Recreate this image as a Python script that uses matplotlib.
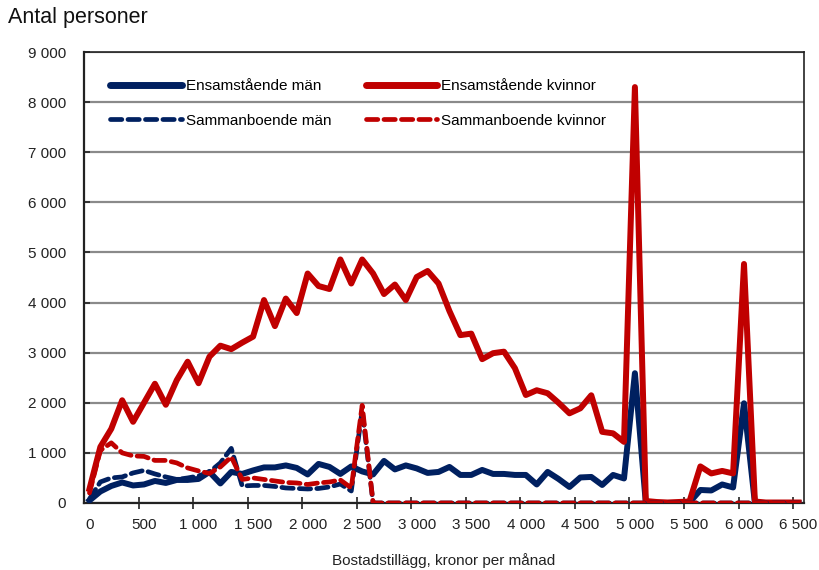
import numpy as np
import matplotlib
matplotlib.use("Agg")
import matplotlib.pyplot as plt
from matplotlib.lines import Line2D

# bostadstillägg, kronor per månad (kategorier om 100 kr)
kronor = list(range(0, 6501, 100))

ens_man = [50, 230, 340, 410, 350, 370, 440, 400, 460, 460,
           480, 620, 390, 620, 580, 650, 710, 710, 750, 700,
           570, 780, 720, 580, 730, 630, 570, 840, 670, 750,
           690, 600, 620, 720, 560, 560, 660, 580, 580, 560,
           560, 370, 620, 480, 320, 510, 520, 360, 560, 490,
           2590, 0, 0, 0, 0, 10, 260, 250, 370, 310,
           1990, 0, 0, 0, 0, 0]
ens_kv = [280, 1120, 1480, 2050, 1620, 2000, 2380, 1960, 2450, 2820,
          2390, 2920, 3140, 3070, 3200, 3320, 4050, 3530, 4080, 3790,
          4580, 4330, 4270, 4860, 4380, 4860, 4580, 4170, 4360, 4050,
          4510, 4630, 4380, 3830, 3350, 3380, 2870, 2990, 3020, 2690,
          2155, 2250, 2190, 2000, 1790, 1890, 2150, 1420, 1390, 1220,
          8300, 40, 20, 10, 20, 30, 730, 590, 640, 590,
          4770, 30, 10, 10, 10, 10]
sam_man = [80, 420, 500, 520, 600, 650, 580, 520, 470, 500,
           540, 620, 800, 1090, 340, 350, 350, 330, 300, 290,
           280, 290, 320, 380, 240, 1850, 0, 0, 0, 0,
           0, 0, 0, 0, 0, 0, 0, 0, 0, 0,
           0, 0, 0, 0, 0, 0, 0, 0, 0, 0,
           0, 0, 0, 0, 0, 0, 0, 0, 0, 0,
           0, 0, 0, 0, 0, 0]
sam_kv = [200, 1050, 1200, 1000, 940, 930, 850, 850, 800, 700,
          640, 590, 720, 920, 470, 500, 470, 440, 410, 400,
          370, 400, 420, 460, 300, 1950, 0, 0, 0, 0,
          0, 0, 0, 0, 0, 0, 0, 0, 0, 0,
          0, 0, 0, 0, 0, 0, 0, 0, 0, 0,
          0, 0, 0, 0, 0, 0, 0, 0, 0, 0,
          0, 0, 0, 0, 0, 0]

x_labels = ["0", "500", "1 000", "1 500", "2 000", "2 500", "3 000", "3 500",
            "4 000", "4 500", "5 000", "5 500", "6 000", "6 500"]
y_labels = ["0", "1 000", "2 000", "3 000", "4 000", "5 000", "6 000", "7 000", "8 000", "9 000"]

BLUE = "#002060"; RED = "#C00000"; INK = "#222222"
plt.rcParams["font.family"] = ["Liberation Sans", "DejaVu Sans"]
FS = 11

fig = plt.figure(figsize=(8.2, 5.7), dpi=100)
ax = fig.add_axes([84/820, 1-503/570, 720/820, 451/570])

ax.plot(kronor, ens_man, color=BLUE, lw=4.3, solid_joinstyle="round", zorder=3)
ax.plot(kronor, ens_kv, color=RED, lw=4.3, solid_joinstyle="round", zorder=3)
ax.plot(kronor, sam_man, color=BLUE, lw=3.4, dashes=(2.4, 1.3), dash_capstyle="round", zorder=4)
ax.plot(kronor, sam_kv, color=RED, lw=3.4, dashes=(2.4, 1.3), dash_capstyle="round", zorder=4)

ax.set_xlim(-50, 6550); ax.set_ylim(0, 9000)
ax.set_yticks(range(0, 9001, 1000)); ax.set_yticklabels(y_labels, fontsize=FS, color=INK)
ax.set_xticks(range(0, 6501, 500)); ax.set_xticklabels(x_labels, fontsize=FS, color=INK)
ax.set_xticks(np.arange(450, 6500, 500), minor=True)
ax.tick_params(axis="x", which="major", length=0, pad=11)
ax.tick_params(axis="x", which="minor", direction="inout", length=9, width=1.2, color=INK)
ax.tick_params(axis="y", direction="in", length=4, width=1.2, pad=13, color=INK)
ax.grid(axis="y", color="#8a8a8a", lw=1.6, zorder=1)
ax.set_axisbelow(True)
for s in ("left", "bottom"): ax.spines[s].set_linewidth(1.6); ax.spines[s].set_color(INK)
for s in ("top", "right"): ax.spines[s].set_linewidth(1.2); ax.spines[s].set_color(INK)

ax.set_xlabel("Bostadstillägg, kronor per månad", fontsize=FS, color=INK, labelpad=15)
fig.text(8/820, 1-18/570, "Antal personer", fontsize=15.5, va="center", ha="left", color="#111111")

handles = [Line2D([], [], color=BLUE, lw=5, solid_capstyle="round"),
           Line2D([], [], color=BLUE, lw=3.4, dashes=(2.4, 1.3), dash_capstyle="round"),
           Line2D([], [], color=RED, lw=5, solid_capstyle="round"),
           Line2D([], [], color=RED, lw=3.4, dashes=(2.4, 1.3), dash_capstyle="round")]
labels = ["Ensamstående män", "Sammanboende män", "Ensamstående kvinnor", "Sammanboende kvinnor"]
ax.legend(handles, labels, ncol=2, loc="upper left", bbox_to_anchor=((110-84)/720, (503-79)/451),
          frameon=False, borderpad=0, borderaxespad=0, handlelength=4.7, handletextpad=0.25,
          labelspacing=1.35, columnspacing=2.25, prop={"size": FS})

fig.savefig("out.png", dpi=100)
